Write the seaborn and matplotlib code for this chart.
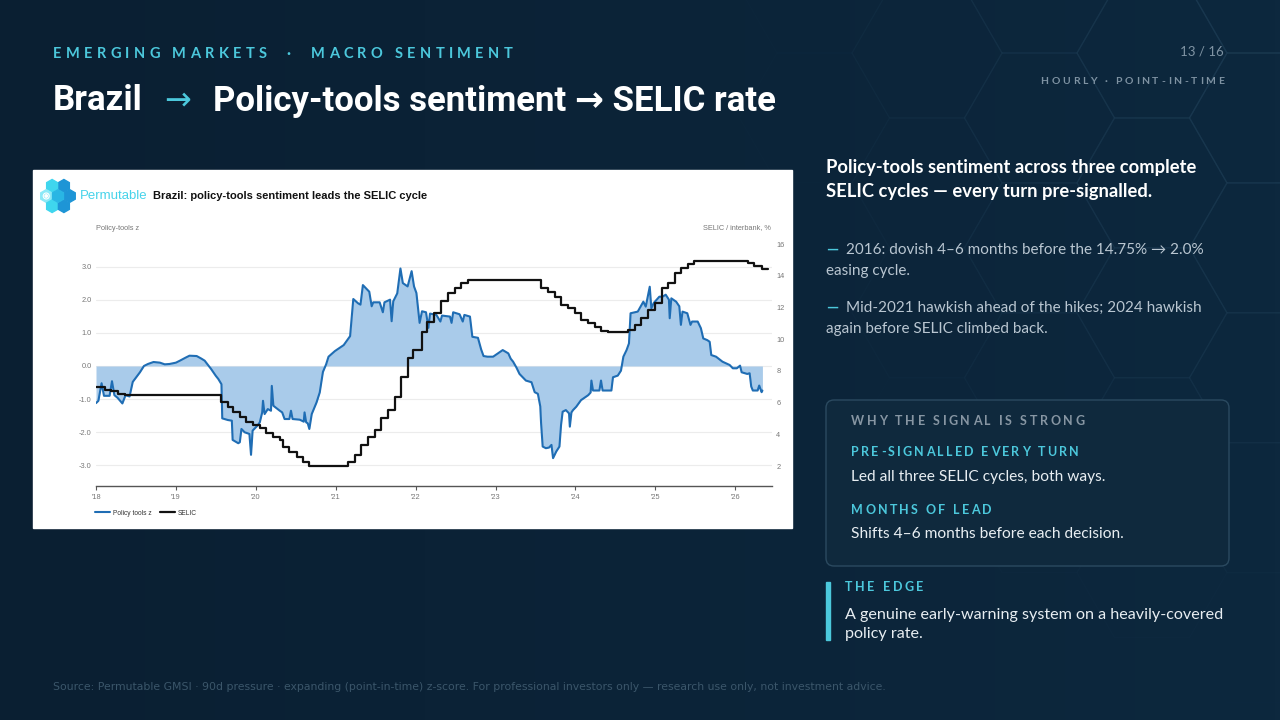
import numpy as np
import pandas as pd
import matplotlib
matplotlib.use("Agg")
import matplotlib.pyplot as plt
import seaborn as sns
from matplotlib.patches import RegularPolygon, Rectangle, FancyBboxPatch, Circle
from matplotlib.lines import Line2D
from matplotlib.font_manager import FontProperties, findfont
from matplotlib.ft2font import FT2Font

sns.set_theme(style="white")
plt.rcParams['font.family'] = ['Lato', 'DejaVu Sans']

# --- data ---
z_year = [2018.00, 2018.03, 2018.07, 2018.10, 2018.17, 2018.20, 2018.23, 2018.27, 2018.33, 2018.37,
          2018.42, 2018.46, 2018.55, 2018.60, 2018.65, 2018.72, 2018.80, 2018.86, 2018.92, 2019.00,
          2019.05, 2019.12, 2019.17, 2019.26, 2019.32, 2019.36, 2019.44, 2019.50, 2019.53, 2019.57,
          2019.58, 2019.65, 2019.70, 2019.71, 2019.78, 2019.80, 2019.82, 2019.86, 2019.92, 2019.94,
          2019.96, 2020.02, 2020.05, 2020.08, 2020.09, 2020.11, 2020.15, 2020.19, 2020.20, 2020.22,
          2020.30, 2020.33, 2020.36, 2020.42, 2020.44, 2020.46, 2020.55, 2020.60, 2020.61, 2020.63,
          2020.65, 2020.67, 2020.70, 2020.76, 2020.80, 2020.84, 2020.88, 2020.91, 2020.99, 2021.10,
          2021.18, 2021.22, 2021.28, 2021.31, 2021.34, 2021.38, 2021.42, 2021.45, 2021.47, 2021.55,
          2021.59, 2021.61, 2021.68, 2021.70, 2021.72, 2021.77, 2021.81, 2021.84, 2021.90, 2021.95,
          2021.98, 2022.01, 2022.05, 2022.08, 2022.13, 2022.16, 2022.18, 2022.26, 2022.31, 2022.33,
          2022.43, 2022.45, 2022.47, 2022.55, 2022.59, 2022.61, 2022.68, 2022.71, 2022.78, 2022.82,
          2022.85, 2022.90, 2022.97, 2023.03, 2023.09, 2023.16, 2023.19, 2023.22, 2023.26, 2023.30,
          2023.34, 2023.38, 2023.45, 2023.49, 2023.53, 2023.56, 2023.57, 2023.59, 2023.63, 2023.67,
          2023.70, 2023.72, 2023.76, 2023.80, 2023.82, 2023.84, 2023.88, 2023.92, 2023.93, 2023.95,
          2023.97, 2024.01, 2024.07, 2024.16, 2024.19, 2024.20, 2024.22, 2024.30, 2024.32, 2024.34,
          2024.45, 2024.47, 2024.53, 2024.57, 2024.60, 2024.64, 2024.67, 2024.69, 2024.78, 2024.85,
          2024.88, 2024.93, 2024.95, 2024.98, 2025.05, 2025.09, 2025.13, 2025.17, 2025.18, 2025.20,
          2025.26, 2025.30, 2025.32, 2025.34, 2025.40, 2025.44, 2025.46, 2025.53, 2025.57, 2025.60,
          2025.65, 2025.68, 2025.70, 2025.76, 2025.84, 2025.93, 2025.97, 2026.02, 2026.06, 2026.08,
          2026.15, 2026.18, 2026.20, 2026.22, 2026.28, 2026.30, 2026.33, 2026.34]
z_value = [-1.12, -1.05, -0.52, -0.90, -0.90, -0.46, -0.88, -0.96, -1.13, -0.88,
           -0.92, -0.48, -0.19, 0.00, 0.06, 0.12, 0.10, 0.05, 0.06, 0.10,
           0.16, 0.25, 0.31, 0.30, 0.22, 0.16, -0.09, -0.30, -0.39, -0.55,
           -1.58, -1.63, -1.65, -2.23, -2.33, -2.30, -1.90, -2.00, -2.05, -2.68,
           -1.95, -1.80, -1.70, -1.40, -1.05, -1.45, -1.30, -1.35, -0.60, -1.20,
           -1.35, -1.40, -1.60, -1.60, -1.35, -1.60, -1.62, -1.68, -1.40, -1.70,
           -1.73, -1.90, -1.45, -1.10, -0.80, -0.18, 0.05, 0.28, 0.45, 0.63,
           0.90, 2.02, 1.89, 1.85, 2.44, 2.34, 2.24, 1.80, 1.92, 1.92,
           1.62, 1.92, 2.00, 1.35, 1.95, 2.19, 2.94, 2.50, 2.40, 2.86,
           2.40, 2.20, 1.30, 1.65, 1.62, 1.15, 1.58, 1.54, 1.34, 1.52,
           1.49, 1.30, 1.62, 1.56, 1.34, 1.54, 1.49, 0.88, 0.85, 0.50,
           0.30, 0.28, 0.28, 0.38, 0.48, 0.38, 0.22, 0.13, -0.04, -0.24,
           -0.34, -0.44, -0.49, -0.79, -0.84, -1.22, -1.72, -2.43, -2.48, -2.46,
           -2.38, -2.78, -2.58, -2.43, -1.78, -1.38, -1.33, -1.43, -1.83, -1.40,
           -1.33, -1.23, -1.03, -0.88, -0.80, -0.44, -0.74, -0.74, -0.44, -0.74,
           -0.74, -0.34, -0.29, -0.14, 0.28, 0.48, 0.68, 1.59, 1.64, 1.94,
           1.79, 2.39, 1.74, 1.90, 2.09, 2.09, 2.15, 2.00, 1.44, 2.04,
           1.94, 1.80, 1.24, 1.64, 1.59, 1.24, 1.34, 1.34, 1.14, 0.83,
           0.78, 0.73, 0.33, 0.28, 0.13, 0.03, -0.07, -0.07, 0.01, -0.19,
           -0.24, -0.22, -0.62, -0.74, -0.74, -0.59, -0.79, -0.74]

selic_year = [2018.00, 2018.11, 2018.19, 2018.28, 2018.36, 2019.57, 2019.65, 2019.71, 2019.80, 2019.88,
              2019.96, 2020.05, 2020.13, 2020.22, 2020.30, 2020.34, 2020.42, 2020.51, 2020.59, 2020.67,
              2021.15, 2021.24, 2021.32, 2021.40, 2021.49, 2021.57, 2021.65, 2021.74, 2021.82, 2021.90,
              2021.97, 2022.08, 2022.14, 2022.23, 2022.32, 2022.41, 2022.49, 2022.57, 2022.66, 2023.57,
              2023.66, 2023.74, 2023.82, 2023.91, 2023.99, 2024.07, 2024.16, 2024.24, 2024.32, 2024.41,
              2024.66, 2024.74, 2024.82, 2024.91, 2024.99, 2025.08, 2025.16, 2025.24, 2025.32, 2025.41,
              2025.49, 2026.16, 2026.24, 2026.33, 2026.41]
selic_value = [7.0, 6.8, 6.7, 6.55, 6.5, 6.05, 5.74, 5.42, 5.1, 4.79,
               4.6, 4.38, 4.06, 3.85, 3.64, 3.22, 2.9, 2.59, 2.27, 2.0,
               2.27, 2.69, 3.32, 3.85, 4.27, 5.0, 5.53, 6.37, 7.6, 8.79,
               9.3, 10.47, 11.1, 11.63, 12.4, 12.89, 13.2, 13.52, 13.7, 13.2,
               12.99, 12.68, 12.15, 11.94, 11.63, 11.2, 11.0, 10.75, 10.53, 10.43,
               10.58, 10.89, 11.31, 11.84, 12.26, 13.2, 13.52, 14.15, 14.47, 14.72,
               14.9, 14.8, 14.63, 14.42, 14.42]

year_ticks = [2018, 2019, 2020, 2021, 2022, 2023, 2024, 2025, 2026]
year_labels = ["'18", "'19", "'20", "'21", "'22", "'23", "'24", "'25", "'26"]
z_ticks = [3, 2, 1, 0, -1, -2, -3]
z_tick_labels = ["3.0", "2.0", "1.0", "0.0", "-1.0", "-2.0", "-3.0"]
selic_ticks = [2, 4, 6, 8, 10, 12, 14, 16]

z_df = pd.DataFrame({'year': z_year, 'z': z_value})
selic_df = pd.DataFrame({'year': selic_year, 'selic': selic_value})

BG = '#0b2236'
CYAN = '#4cc8dc'
MUTED = '#7f93a3'
BLUE = '#1f6db4'
FILL = '#a9cbea'

fig = plt.figure(figsize=(12.8, 7.2), dpi=100)

# full-figure axes in pixel coords for the slide furniture
bg = fig.add_axes([0, 0, 1, 1])
bg.set_xlim(0, 1280)
bg.set_ylim(720, 0)
bg.axis('off')
grad = np.linspace(0, 1, 256)[None, :]
bg.imshow(grad, extent=[0, 1280, 720, 0], aspect='auto', zorder=0,
          cmap=matplotlib.colors.LinearSegmentedColormap.from_list('bg', ['#0a1f32', '#0d283e']))

# faint hexagon grid, top right
R = 75
for i in range(-8, 4):
    for j in range(-2, 8):
        cx = 1152 + i * 1.5 * R
        cy = 53 + j * np.sqrt(3) * R + (i % 2) * np.sqrt(3) / 2 * R
        d = np.hypot(cx - 1280, (cy - 40) * 0.8)
        a = 0.55 * max(0.0, 1 - d / 520)
        if a <= 0:
            continue
        bg.add_patch(RegularPolygon((cx, cy), 6, radius=R, orientation=np.pi / 6,
                                    fill=False, ec='#1e3e56', lw=1.0, alpha=a, zorder=1))


def tracked(x, y, s, size, track, color, weight='bold', family='Lato', ha='left'):
    fp = FontProperties(family=family, weight=weight, size=size)
    font = FT2Font(findfont(fp))
    font.set_size(size, 100)
    adv = [font.load_char(ord(c)).linearHoriAdvance / 65536 for c in s]
    total = sum(adv) + track * (len(s) - 1)
    if ha == 'right':
        x -= total
    for c, a in zip(s, adv):
        if c != ' ':
            bg.text(x, y, c, fontproperties=fp, color=color, va='center', ha='left', zorder=5)
        x += a + track


# header
tracked(53, 54, "EMERGING MARKETS  ·  MACRO SENTIMENT", 10.5, 4.3, CYAN)
title_kw = dict(color='white', fontsize=25, fontweight='bold', va='center',
                family=['Roboto', 'DejaVu Sans'], zorder=5)
bg.text(53, 101, "Brazil", **title_kw)
bg.text(164, 101, "→", color=CYAN, fontsize=23, va='center', family=['DejaVu Sans'], zorder=5)
bg.text(213, 101, "Policy-tools sentiment → SELIC rate", **title_kw)
bg.text(1224, 52, "13 / 16", color=MUTED, fontsize=9.5, ha='right', va='center', zorder=5)
tracked(1224, 82, "HOURLY · POINT-IN-TIME", 7.5, 2.7, MUTED, ha='right')

# white chart panel + logo
bg.add_patch(Rectangle((33, 170), 759, 358, color='white', zorder=2))
lr = 6.8
lcx, lcy = 58, 196
for ang in [0, 60, 120, 180, 240, 300]:
    px = lcx + np.sqrt(3) * lr * np.cos(np.radians(ang))
    py = lcy - np.sqrt(3) * lr * np.sin(np.radians(ang))
    col = '#1e95d6' if np.cos(np.radians(ang)) > 0.1 else '#3fd6ee'
    if ang == 180:
        col = '#8be9f7'
    bg.add_patch(RegularPolygon((px, py), 6, radius=lr * 0.93, color=col, zorder=3))
    if ang == 180:
        bg.add_patch(Circle((px, py), 3.0, fill=False, ec='white', lw=0.8, zorder=4))
        bg.add_patch(Circle((px, py), 1.2, color='white', zorder=4))
bg.add_patch(RegularPolygon((lcx, lcy), 6, radius=lr * 0.93, color='#29b6e4', zorder=3))
bg.text(80, 196, "Permutable", color='#46d3ea', fontsize=9.5, va='center',
        family='Liberation Sans', zorder=5)
bg.text(153, 196, "Brazil: policy-tools sentiment leads the SELIC cycle", color='#111111',
        fontsize=8.05, fontweight='bold', va='center', family='Liberation Sans', zorder=5)
bg.text(96, 228, "Policy-tools z", color='#777777', fontsize=5.3, va='center',
        family='Liberation Sans', zorder=5)
bg.text(771, 228, "SELIC / interbank, %", color='#777777', fontsize=5.3, va='center',
        ha='right', family='Liberation Sans', zorder=5)

# right panel
head_kw = dict(color='white', fontsize=13.2, fontweight='bold', va='center', zorder=5)
bg.text(826, 168, "Policy-tools sentiment across three complete", **head_kw)
bg.text(826, 192, "SELIC cycles — every turn pre-signalled.", **head_kw)
body_kw = dict(color='#b9c6d1', fontsize=11, va='center', zorder=5)
bg.text(826, 250, "—", color=CYAN, fontsize=11, fontweight='bold', va='center', zorder=5)
bg.text(846, 250, "2016: dovish 4–6 months before the 14.75% → 2.0%", **body_kw)
bg.text(826, 271, "easing cycle.", **body_kw)
bg.text(826, 308, "—", color=CYAN, fontsize=11, fontweight='bold', va='center', zorder=5)
bg.text(846, 308, "Mid-2021 hawkish ahead of the hikes; 2024 hawkish", **body_kw)
bg.text(826, 329, "again before SELIC climbed back.", **body_kw)

bg.add_patch(FancyBboxPatch((826, 400), 403, 166, boxstyle='round,pad=0,rounding_size=8',
                            fc='#0f293d', ec='#2b4a60', lw=1, zorder=2))
tracked(851, 421, "WHY THE SIGNAL IS STRONG", 9, 2.6, '#8796a3')
tracked(851, 452, "PRE-SIGNALLED EVERY TURN", 9, 2.3, CYAN)
card_kw = dict(color='#e8eef2', fontsize=11.2, va='center', zorder=5)
bg.text(851, 477, "Led all three SELIC cycles, both ways.", **card_kw)
tracked(851, 510, "MONTHS OF LEAD", 9, 2.3, CYAN)
bg.text(851, 534, "Shifts 4–6 months before each decision.", **card_kw)

bg.add_patch(Rectangle((826, 582), 3.5, 58, color=CYAN, zorder=3))
tracked(845, 587, "THE EDGE", 9, 2.6, CYAN)
edge_kw = dict(card_kw, fontsize=11.6)
bg.text(845, 615, "A genuine early-warning system on a heavily-covered", **edge_kw)
bg.text(845, 634, "policy rate.", **edge_kw)

bg.text(53, 687, "Source: Permutable GMSI · 90d pressure · expanding (point-in-time) z-score. "
        "For professional investors only — research use only, not investment advice.",
        color='#3b566a', fontsize=7.8, va='center', family=['DejaVu Sans'], zorder=5)

# --- the chart itself ---
ax = fig.add_axes([96 / 1280, 1 - 486 / 720, 676 / 1280, 248 / 720])
ax.set_facecolor('white')
ax.fill_between(z_df['year'], z_df['z'], 0, color=FILL, lw=0, zorder=1)
sns.lineplot(data=z_df, x='year', y='z', ax=ax, color=BLUE, lw=1.5, estimator=None,
             sort=False, zorder=2)
ax.set_xlim(2018.0, 2026.46)
ax.set_ylim(-3.62, 3.86)
ax.set_yticks(z_ticks)
ax.set_yticklabels(z_tick_labels)
ax.set_xticks(year_ticks)
ax.set_xticklabels(year_labels)
ax.set_xlabel('')
ax.set_ylabel('')
ax.grid(axis='y', color='#ececec', lw=0.8)
ax.set_axisbelow(True)
for s in ['top', 'left', 'right']:
    ax.spines[s].set_visible(False)
ax.spines['bottom'].set_color('#555555')
ax.spines['bottom'].set_linewidth(1)
ax.tick_params(axis='y', length=0, pad=3, labelsize=5.3, labelcolor='#777777')
ax.tick_params(axis='x', length=3, width=0.8, color='#555555', pad=3, labelsize=5.3,
               labelcolor='#777777', bottom=True)
for t in ax.get_xticklabels() + ax.get_yticklabels():
    t.set_family('Liberation Sans')

ax2 = ax.twinx()
sns.lineplot(data=selic_df, x='year', y='selic', ax=ax2, color='#111111', lw=1.6,
             estimator=None, sort=False, drawstyle='steps-post')
ax2.set_ylim(0.74, 16.38)
ax2.set_yticks(selic_ticks)
ax2.set_ylabel('')
for s in ['top', 'left', 'right', 'bottom']:
    ax2.spines[s].set_visible(False)
ax2.tick_params(axis='y', length=0, pad=3, labelsize=5.3, labelcolor='#777777')
for t in ax2.get_yticklabels():
    t.set_family('Liberation Sans')

handles = [Line2D([], [], color=BLUE, lw=1.5), Line2D([], [], color='#111111', lw=1.6)]
leg = ax.legend(handles, ['Policy tools z', 'SELIC'], loc='upper left', bbox_to_anchor=(-0.005, -0.085),
                ncol=2, frameon=False, fontsize=4.8, handlelength=2.2, columnspacing=1.2,
                handletextpad=0.5, borderaxespad=0)
for t in leg.get_texts():
    t.set_family('Liberation Sans')
    t.set_color('#333333')

fig.savefig('out.png', dpi=100, facecolor=BG)
